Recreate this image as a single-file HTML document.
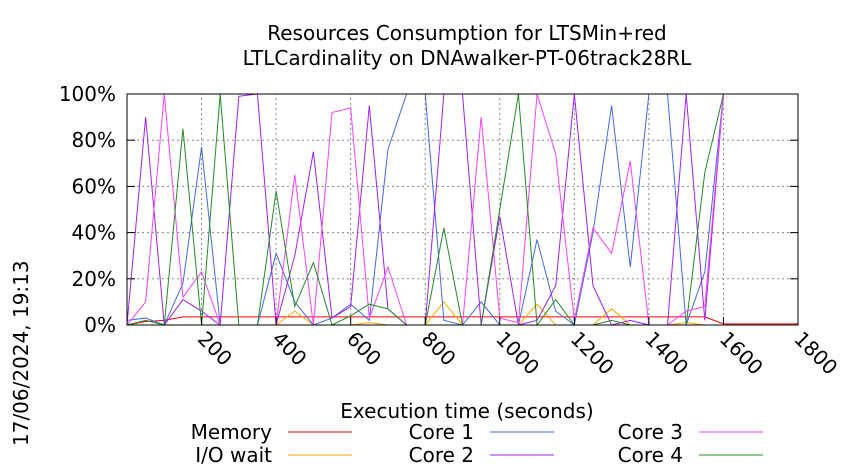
<!DOCTYPE html>
<html><head><meta charset="utf-8"><style>
body{margin:0;background:#fff;}
svg{display:block;font-family:"DejaVu Sans","Liberation Sans",sans-serif;}
</style></head><body>
<svg id="chart" width="850" height="475" viewBox="0 0 850 475" xmlns="http://www.w3.org/2000/svg">
<text x="467" y="40" font-size="20" text-anchor="middle">Resources Consumption for LTSMin+red</text>
<text x="467" y="65" font-size="20" text-anchor="middle">LTLCardinality on DNAwalker-PT-06track28RL</text>
<text transform="translate(28,446) rotate(-90)" font-size="20">17/06/2024, 19:13</text>
<text x="467" y="418" font-size="20" text-anchor="middle">Execution time (seconds)</text>
<g id="grid"></g>
<g id="series"></g>
<rect x="127" y="94" width="671" height="231" fill="none" stroke="#000" stroke-width="1"/>
<g id="axes"></g>
<g id="legend"></g>
</svg>
<script>
const times = [0,50,100,150,200,250,300,350,400,450,500,550,600,650,700,750,800,850,900,950,1000,1050,1100,1150,1200,1250,1300,1350,1400,1450,1500,1550,1600,1800];
const memory = [0,1.5,2,3.5,3.5,3.5,3.5,3.5,3.5,3.5,3.5,3.5,3.5,3.5,3.5,3.5,3.5,3.5,3.5,3.5,3.5,3.5,3.5,3.5,3.5,3.5,3.5,3.5,3.5,3.5,3.5,3.5,0.5,0.5];
const ioWait = [0,0,0,0,0,0,0,0,0,6,0,0,0,1,0,0,0,10,0,0,0,0,9,0,0,0,7,0,0,0,1,0,0,0];
const core1 = [2,3,0,18,77,0,0,0,31,10,0,3,9,2,76,100,100,2,0,10,0,0,37,6,0,40,95,25,100,100,0,23,100,100];
const core2 = [0,90,0,11,6,0,99,100,0,30,75,3,8,95,7,0,0,100,100,0,47,0,2,17,100,17,0,2,0,0,100,2,100,100];
const core3 = [0,10,100,12,23,0,0,0,0,65,0,92,94,3,25,0,0,0,0,90,3,1,100,74,2,42,31,71,0,0,6,8,100,100];
const core4 = [0,2,0,85,0,100,0,0,58,8,27,0,4,9,7,0,0,42,0,0,50,100,0,11,0,0,2,0,0,0,0,66,100,100];
const xTicks = [200,400,600,800,1000,1200,1400,1600,1800];
const yTicks = [0,20,40,60,80,100];

const NS="http://www.w3.org/2000/svg";
const X0=127,X1=798,Y0=325,Y1=94;
const xs=t=>X0+(X1-X0)*t/1800;
const ys=v=>Y0-(Y0-Y1)*v/100;
function mk(tag,attrs,parent){const e=document.createElementNS(NS,tag);for(const k in attrs)e.setAttribute(k,attrs[k]);parent.appendChild(e);return e;}
const grid=document.getElementById('grid'),axes=document.getElementById('axes'),ser=document.getElementById('series'),leg=document.getElementById('legend');
yTicks.forEach(v=>{
  const l=mk('line',{x1:X0,x2:X1,y1:ys(v),y2:ys(v),stroke:'#888','stroke-dasharray':'2,3'},grid);
  
  
  const t=mk('line',{x1:X0,x2:X0+8,y1:ys(v),y2:ys(v),stroke:'#000'},axes);
  
  
  const t2=mk('line',{x1:X1-8,x2:X1,y1:ys(v),y2:ys(v),stroke:'#000'},axes);
  
  
  const lb=mk('text',{x:X0-11,y:ys(v)+7,'font-size':20,'text-anchor':'end'},axes);
  lb.textContent=v+'%';
  
  
});
xTicks.forEach(v=>{
  const l=mk('line',{x1:xs(v),x2:xs(v),y1:Y0,y2:Y1,stroke:'#888','stroke-dasharray':'2,3'},grid);
  
  
  const t=mk('line',{x1:xs(v),x2:xs(v),y1:Y0,y2:Y0-8,stroke:'#000'},axes);
  
  
  const lb=mk('text',{'font-size':20,transform:`translate(${xs(v)-5},${340}) rotate(45)`},axes);
  lb.textContent=v;
  
  
});
const series=[
 ['memory-line',memory,'#ff0000'],
 ['io-wait-line',ioWait,'#ffa500'],
 ['core1-line',core1,'#4169e1'],
 ['core2-line',core2,'#a020f0'],
 ['core3-line',core3,'#ff40ff'],
 ['core4-line',core4,'#228b22']];
series.forEach(([n,d,c])=>{
  const p=mk('polyline',{points:d.map((v,i)=>xs(times[i])+','+ys(v)).join(' '),fill:'none',stroke:c,'stroke-width':1},ser);
  
  
});
const legItems=[['Memory',272,432,'#ff0000'],['I/O wait',272,455,'#ffa500'],['Core 1',474,432,'#4169e1'],['Core 2',474,455,'#a020f0'],['Core 3',683,432,'#ff40ff'],['Core 4',683,455,'#228b22']];
legItems.forEach(([label,x,y,c])=>{
  const t=mk('text',{x:x,y:y+7,'font-size':20,'text-anchor':'end'},leg);
  t.textContent=label;
  
  
  const l=mk('line',{x1:x+16,x2:x+80,y1:y,y2:y,stroke:c},leg);
  
  
});
</script>
</body></html>
